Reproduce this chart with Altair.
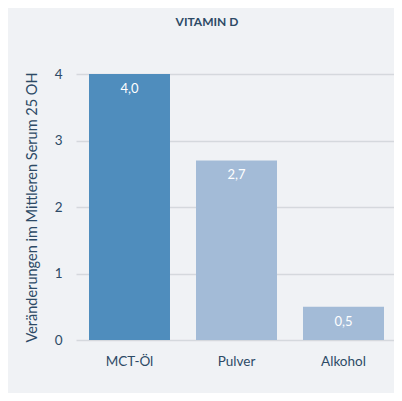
import altair as alt
import pandas as pd

categories = ["MCT-Öl", "Pulver", "Alkohol"]
values = [4.0, 2.7, 0.5]
labels = ["4,0", "2,7", "0,5"]
colors = ["#4f8dbd", "#a3bbd7", "#a3bbd7"]

df = pd.DataFrame({"cat": categories, "val": values, "lab": labels, "col": colors})

TEXT = "#2d4a66"
FONT = "Lato"

base = alt.Chart(df).encode(
    x=alt.X("cat:N", sort=categories, title=None,
            scale=alt.Scale(paddingInner=0.243, paddingOuter=0.1075, align=0.565),
            axis=alt.Axis(labelAngle=0, labelFontSize=13.5, labelColor=TEXT, labelFont=FONT,
                          labelPadding=14, ticks=False, domain=False, grid=False)),
)

bars = base.mark_bar().encode(
    y=alt.Y("val:Q", title="Veränderungen im Mittleren Serum 25 OH",
            scale=alt.Scale(domain=[0, 4], nice=False),
            axis=alt.Axis(values=[0, 0.5, 1, 1.5, 2, 2.5, 3, 3.5, 4], format=".0f",
                          labelExpr="datum.value % 1 == 0 ? datum.label : ''",
                          labelFontSize=13.5, labelColor=TEXT, labelFont=FONT, labelPadding=14,
                          ticks=False, domain=False, gridColor="#d5d8dd", gridWidth=1.5,
                          titleFontSize=14.5, titleFont=FONT, titleColor=TEXT, titleFontWeight="normal",
                          titlePadding=15)),
    color=alt.Color("col:N", scale=None),
)

text = base.mark_text(color="white", fontSize=13, font=FONT, baseline="middle", dy=15).encode(
    y=alt.Y("val:Q"),
    text="lab:N",
)

chart = (bars + text).properties(
    width=318, height=266,
    title=alt.TitleParams("VITAMIN D", fontSize=12, font=FONT, fontWeight="bold", color=TEXT,
                          anchor="middle", offset=38, dx=-28),
    autosize=alt.AutoSizeParams(type="none"),
    padding={"left": 68, "top": 66, "right": 0, "bottom": 53},
    background="#f0f2f5",
).configure_view(stroke=None)

chart.save("out.html", embed_options={"renderer": "svg", "actions": False})
